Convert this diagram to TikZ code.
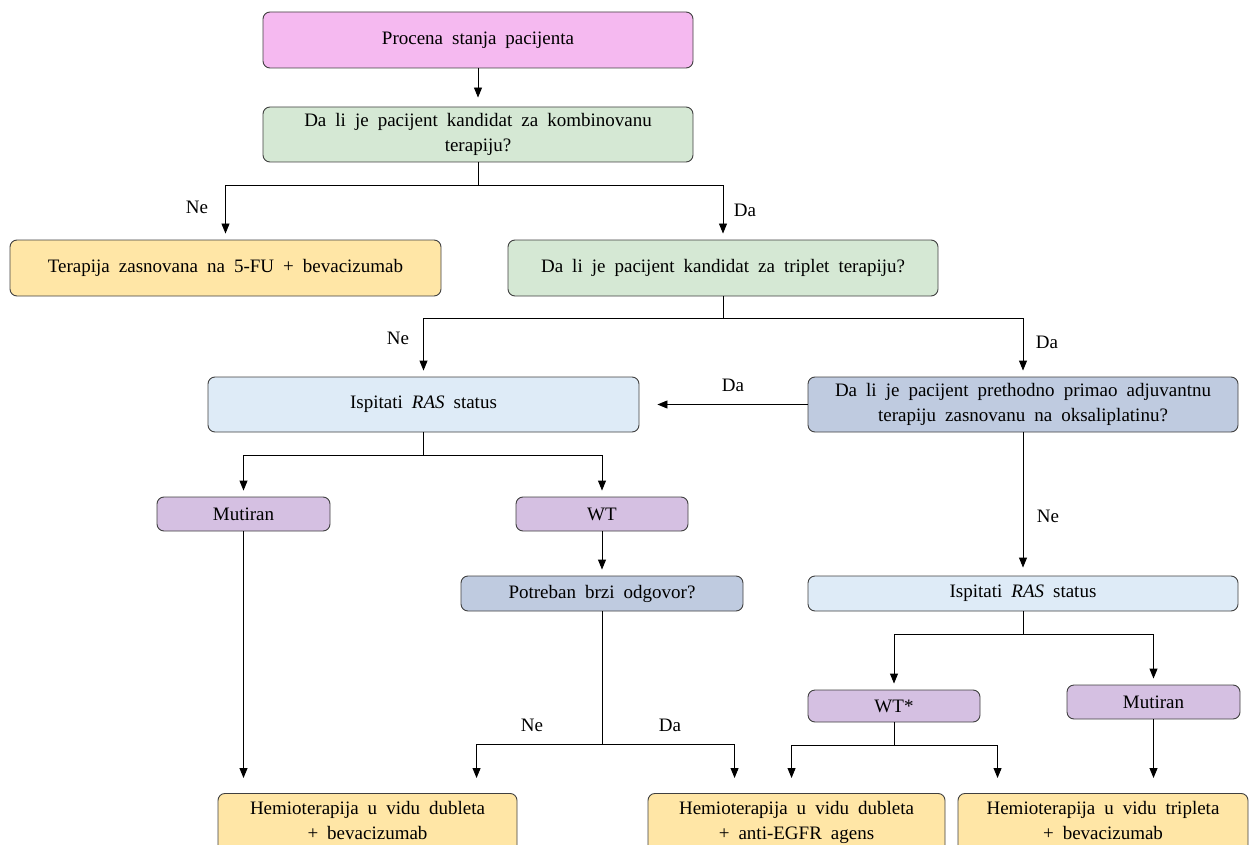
\documentclass[tikz,border=0pt]{standalone}
\usepackage{fontspec}
\setmainfont{Liberation Serif}[WordSpace=1.9]
\usetikzlibrary{arrows.meta}
\definecolor{pinkbox}{HTML}{F5B9F0}
\definecolor{greenbox}{HTML}{D5E8D4}
\definecolor{yellowbox}{HTML}{FFE6A6}
\definecolor{lightbluebox}{HTML}{DEEBF7}
\definecolor{grayblue}{HTML}{BFCBE0}
\definecolor{lilacbox}{HTML}{D5C0E2}
\tikzset{
  box/.style={draw=black!75, rounded corners=7pt, line width=0.9pt, align=center, inner sep=0pt, font=\fontsize{19}{25}\selectfont},
  arr/.style={-{Triangle[length=10pt,width=8pt]}, line width=0.9pt, shorten >=6pt},
  long/.style={shorten >=15pt},
  lbl/.style={font=\fontsize{19}{20}\selectfont}
}
\begin{document}
\begin{tikzpicture}[x=1pt,y=-1pt]
\useasboundingbox (0,0) rectangle (1250,845);
\node[box, fill=pinkbox, minimum width=430pt, minimum height=56pt] (proc) at (478,40) {Procena stanja pacijenta};
\node[box, fill=greenbox, minimum width=430pt, minimum height=55pt] (komb) at (478,134.5) {Da li je pacijent kandidat za kombinovanu\\terapiju?};
\node[box, fill=yellowbox, minimum width=431pt, minimum height=56pt] (fu) at (225.5,268) {Terapija zasnovana na 5-FU + bevacizumab};
\node[box, fill=greenbox, minimum width=430pt, minimum height=56pt] (trip) at (723,268) {Da li je pacijent kandidat za triplet terapiju?};
\node[box, fill=lightbluebox, minimum width=431pt, minimum height=55pt] (ras1) at (423.5,404.5) {Ispitati \textit{RAS} status};
\node[box, fill=grayblue, minimum width=430pt, minimum height=55pt] (adj) at (1023,404.5) {Da li je pacijent prethodno primao adjuvantnu\\terapiju zasnovanu na oksaliplatinu?};
\node[box, fill=lilacbox, minimum width=173pt, minimum height=34pt] (mut1) at (243.5,514) {Mutiran};
\node[box, fill=lilacbox, minimum width=172pt, minimum height=34pt] (wt1) at (602,514) {WT};
\node[box, fill=grayblue, minimum width=282pt, minimum height=35pt] (brzi) at (602,593.5) {Potreban brzi odgovor?};
\node[box, fill=lightbluebox, minimum width=430pt, minimum height=35pt] (ras2) at (1023,593.5) {Ispitati \textit{RAS} status};
\node[box, fill=lilacbox, minimum width=172pt, minimum height=32pt] (wt2) at (894,706) {WT*};
\node[box, fill=lilacbox, minimum width=173pt, minimum height=34pt] (mut2) at (1153.5,702) {Mutiran};
\node[box, fill=yellowbox, anchor=north, minimum width=299pt, inner ysep=8pt, text depth=14pt] (hem1) at (367.5,793) {Hemioterapija u vidu dubleta\\+ bevacizumab};
\node[box, fill=yellowbox, anchor=north, minimum width=297pt, inner ysep=8pt, text depth=14pt] (hem2) at (796.5,793) {Hemioterapija u vidu dubleta\\+ anti-EGFR agens};
\node[box, fill=yellowbox, anchor=north, minimum width=290pt, inner ysep=8pt, text depth=14pt] (hem3) at (1103,793) {Hemioterapija u vidu tripleta\\+ bevacizumab};
\draw[arr, shorten >=9pt] (proc) -- (komb);
\draw[line width=0.9pt] (komb.south) -- ++(0,23) coordinate (j1);
\draw[arr] (j1) -| (fu.north);
\draw[arr] (j1) -| (trip.north);
\node[lbl] (ne1) at (197,207) {Ne};
\node[lbl] (da1) at (745,210) {Da};
\draw[line width=0.9pt] (trip.south) -- ++(0,22) coordinate (j2);
\draw[arr] (j2) -| (ras1.north);
\draw[arr] (j2) -| (adj.north);
\node[lbl] (ne2) at (398,338) {Ne};
\node[lbl] (da2) at (1047,342) {Da};
\draw[arr, shorten >=18pt] (adj.west) -- (ras1.east);
\node[lbl] (da3) at (733,385) {Da};
\draw[arr, shorten >=8pt] (adj.south) -- (ras2.north);
\node[lbl] (ne3) at (1048,516) {Ne};
\draw[line width=0.9pt] (ras1.south) -- ++(0,23) coordinate (j3);
\draw[arr] (j3) -| (mut1.north);
\draw[arr] (j3) -| (wt1.north);
\draw[arr] (wt1) -- (brzi);
\draw[arr, long] (mut1.south) -- (mut1.south |- hem1.north);
\draw[line width=0.9pt] (brzi.south) -- ++(0,133) coordinate (j4);
\draw[arr, long] (j4) -| ([xshift=259pt]hem1.north west);
\draw[arr, long] (j4) -| ([xshift=87pt]hem2.north west);
\node[lbl] (ne4) at (532,725) {Ne};
\node[lbl] (da4) at (670,725) {Da};
\draw[line width=0.9pt] (ras2.south) -- ++(0,23) coordinate (j5);
\draw[arr] (j5) -| (wt2.north);
\draw[arr] (j5) -| (mut2.north);
\draw[line width=0.9pt] (wt2.south) -- ++(0,23) coordinate (j6);
\draw[arr, long] (j6) -| ([xshift=144pt]hem2.north west);
\draw[arr, long] (j6) -| ([xshift=40pt]hem3.north west);
\draw[arr, long] (mut2.south) -- (mut2.south |- hem3.north);
\end{tikzpicture}
\end{document}
